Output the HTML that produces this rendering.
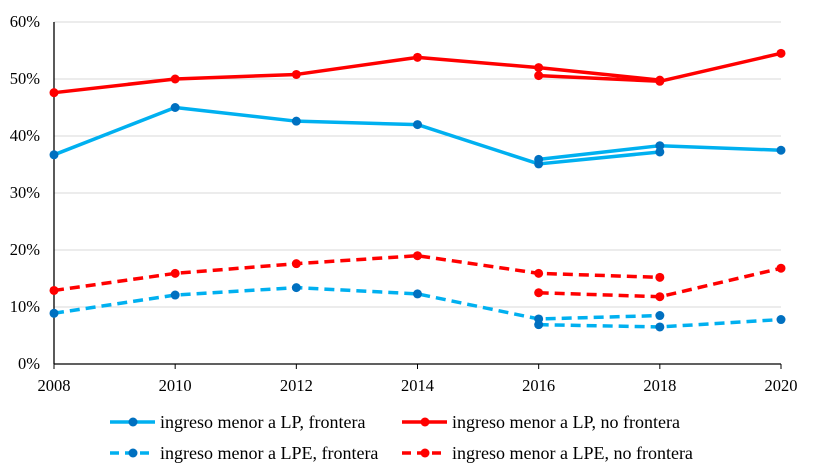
<!DOCTYPE html>
<html><head><meta charset="utf-8"><style>
body{margin:0;background:#fff}
svg text{font-family:"Liberation Serif",serif;font-size:16.5px;fill:#000}
svg #legend text{font-size:18px}
</style></head><body>
<svg width="814" height="471">
<g id="grid"></g>
<g id="axes"></g>
<g id="series"></g>
<g id="legend"></g>
</svg>
<script>
const years=[2008,2010,2012,2014,2016,2018,2020];
const yTicks=[0,10,20,30,40,50,60];
const oldYears=[2008,2010,2012,2014,2016,2018];
const newYears=[2016,2018,2020];
const lpFronteraOld=[36.7,45.0,42.6,42.0,35.1,37.2];
const lpFronteraNew=[35.9,38.3,37.5];
const lpNoFronteraOld=[47.6,50.0,50.8,53.8,52.0,49.8];
const lpNoFronteraNew=[50.6,49.6,54.5];
const lpeFronteraOld=[8.9,12.1,13.4,12.3,7.9,8.5];
const lpeFronteraNew=[6.9,6.5,7.8];
const lpeNoFronteraOld=[12.9,15.9,17.6,19.0,15.9,15.2];
const lpeNoFronteraNew=[12.5,11.8,16.8];
const labels=["ingreso menor a LP, frontera","ingreso menor a LP, no frontera","ingreso menor a LPE, frontera","ingreso menor a LPE, no frontera"];

const NS="http://www.w3.org/2000/svg";
const X0=54,X1=781,Y0=364,Y1=22;
const xs=v=>X0+(v-2008)/12*(X1-X0);
const ys=v=>Y0-v/60*(Y0-Y1);
function mk(t,a,p){const e=document.createElementNS(NS,t);for(const k in a)e.setAttribute(k,a[k]);p.appendChild(e);return e;}
const grid=document.getElementById('grid'),axes=document.getElementById('axes'),ser=document.getElementById('series'),leg=document.getElementById('legend');
yTicks.forEach(t=>{
  if(t>0){const l=mk('line',{x1:X0,x2:X1,y1:ys(t),y2:ys(t),stroke:'#d9d9d9','stroke-width':1},grid);
  
  }
  const tx=mk('text',{x:X0-14,y:ys(t)+5,'text-anchor':'end'},axes);tx.textContent=t+'%';
  
  
});
mk('line',{x1:X0,x2:X0,y1:Y1,y2:Y0,stroke:'#000','stroke-width':1.3},axes);
mk('line',{x1:X0,x2:X1,y1:Y0,y2:Y0,stroke:'#000','stroke-width':1.3},axes);
years.forEach(y=>{
  mk('line',{x1:xs(y),x2:xs(y),y1:Y0,y2:Y0+5,stroke:'#000'},axes);
  const tx=mk('text',{x:xs(y),y:Y0+27,'text-anchor':'middle'},axes);tx.textContent=y;
  
  
});
const BL='#00b0f0',BM='#0070c0',RD='#ff0000';
function draw(xv,yv,col,mc,dash,name){
  const g=mk('g',{},ser);
  
  
  mk('polyline',{points:xv.map((x,i)=>xs(x)+','+ys(yv[i])).join(' '),fill:'none',stroke:col,'stroke-width':3.5,'stroke-dasharray':dash?'10,6':'none','stroke-linejoin':'round'},g);
  xv.forEach((x,i)=>{const c=mk('circle',{cx:xs(x),cy:ys(yv[i]),r:4.5,fill:mc},g);
    
    });
}
draw(oldYears,lpFronteraOld,BL,BM,false,'lp-frontera-old');
draw(newYears,lpFronteraNew,BL,BM,false,'lp-frontera-new');
draw(oldYears,lpNoFronteraOld,RD,RD,false,'lp-no-frontera-old');
draw(newYears,lpNoFronteraNew,RD,RD,false,'lp-no-frontera-new');
draw(oldYears,lpeFronteraOld,BL,BM,true,'lpe-frontera-old');
draw(newYears,lpeFronteraNew,BL,BM,true,'lpe-frontera-new');
draw(oldYears,lpeNoFronteraOld,RD,RD,true,'lpe-no-frontera-old');
draw(newYears,lpeNoFronteraNew,RD,RD,true,'lpe-no-frontera-new');
const lp=[[110,422,BL,BM,false],[402,422,RD,RD,false],[110,453,BL,BM,true],[402,453,RD,RD,true]];
lp.forEach((p,i)=>{
  const g=mk('g',{},leg);
  
  
  mk('line',{x1:p[0],x2:p[0]+45,y1:p[1],y2:p[1],stroke:p[2],'stroke-width':3.5,'stroke-dasharray':p[4]?'9,6':'none'},g);
  mk('circle',{cx:p[0]+23,cy:p[1],r:4.5,fill:p[3]},g);
  const t=mk('text',{x:p[0]+50,y:p[1]+6},g);t.textContent=labels[i];
});
</script>
</body></html>
